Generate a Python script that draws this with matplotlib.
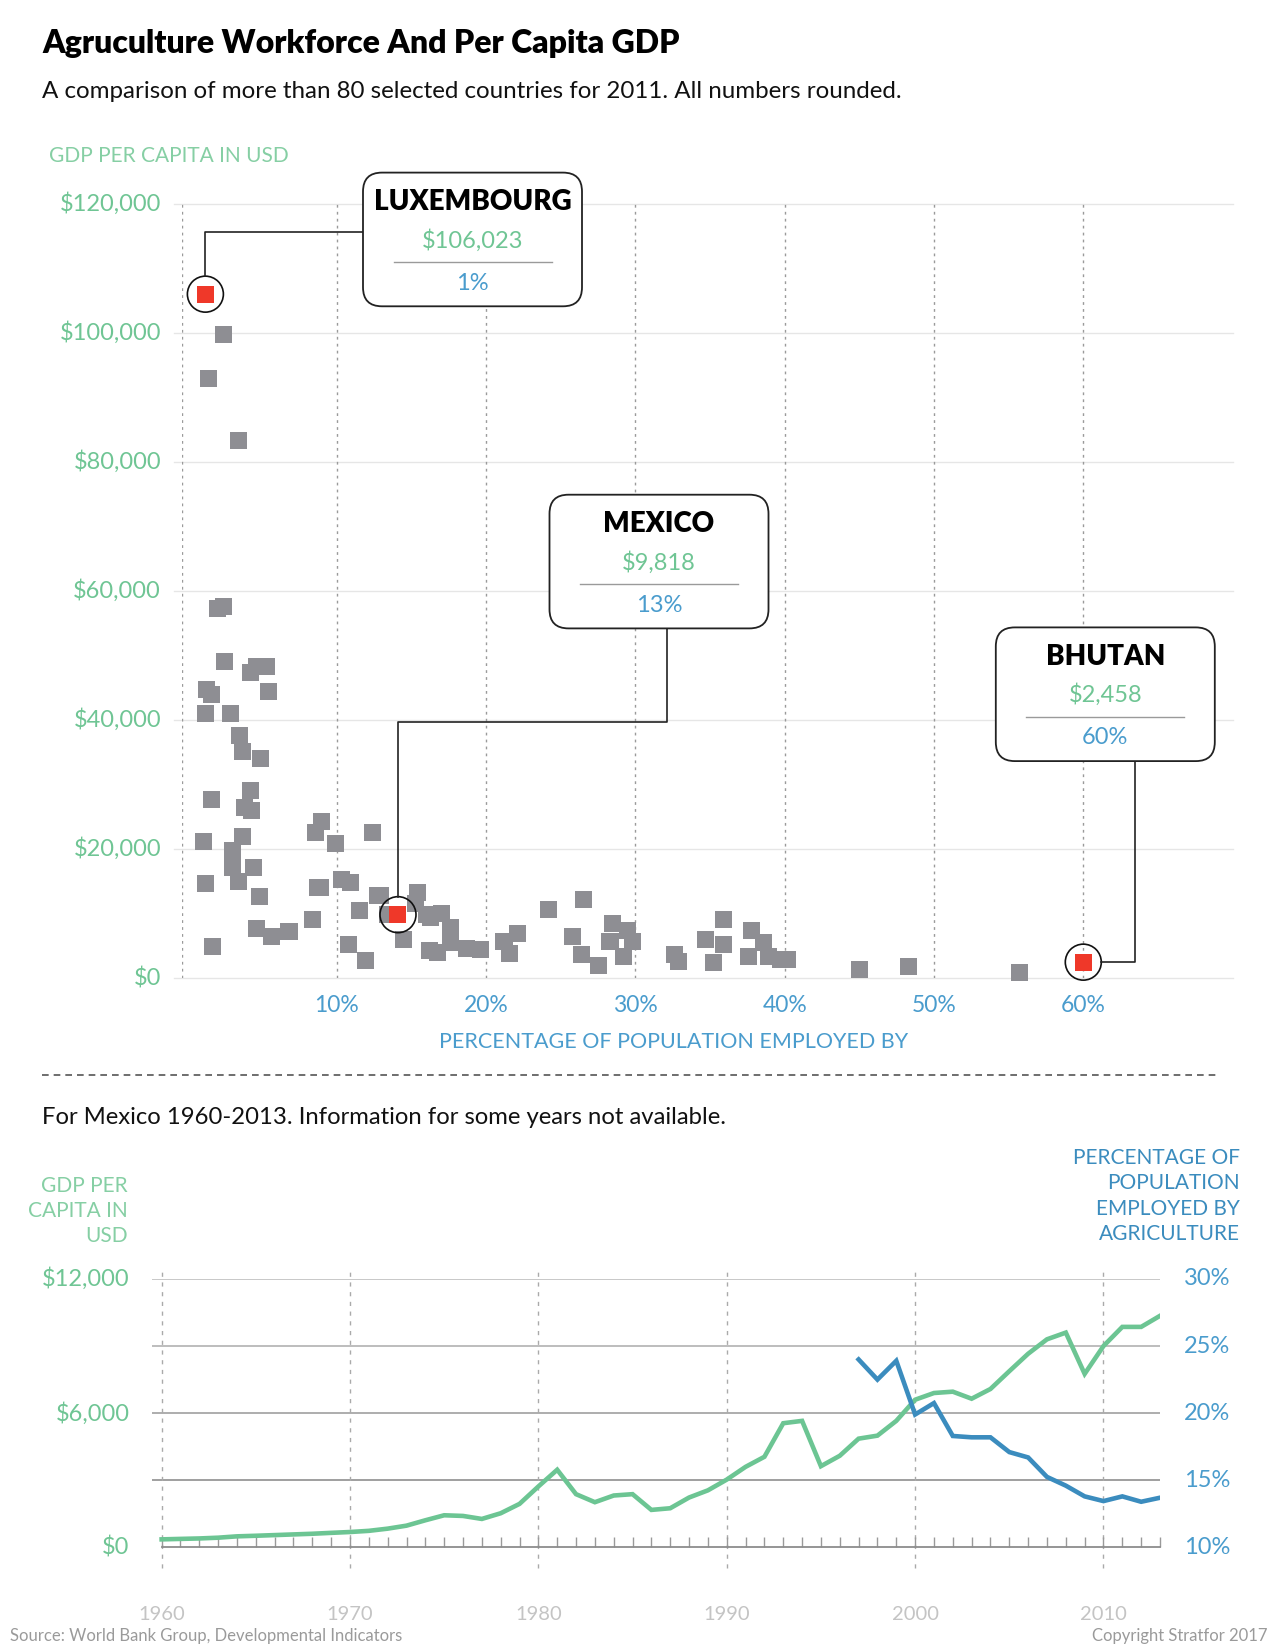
import matplotlib.pyplot as plt
import matplotlib.patches as mpatches

plt.rcParams['font.family'] = ['Lato', 'DejaVu Sans']

W, H = 1280, 1650

GREEN = '#6cc593'
GREEN_TXT = '#6fc594'
GREEN_HEAD = '#86cfa4'
BLUE = '#3b8cbe'
BLUE_TXT = '#4a9ccd'
RED = '#ef3829'
GRAY_PT = '#8e8e93'

# --- scatter: share of workforce in agriculture (%) vs GDP per capita (USD), 2011
agri_pct = [2.4, 1.4, 3.4, 2.0, 2.4, 2.5, 1.3, 1.6, 1.2, 2.9, 4.2, 4.6, 5.3, 5.4,
            3.5, 3.7, 4.9, 1.6, 4.2, 3.8, 4.3, 3.7, 1.1, 3.0, 4.4, 3.0, 3.4, 1.2,
            4.8, 4.6, 5.6, 1.7, 6.8, 8.4, 8.6, 9.0, 8.7, 8.9, 9.9, 10.3, 10.9, 10.8,
            11.5, 11.9, 12.4, 12.7, 12.9, 13.4, 14.5, 15.4, 15.3, 16.0, 16.3, 17.0,
            16.2, 16.75, 17.6, 17.6, 18.7, 19.6, 21.2, 21.6, 22.1, 24.2, 25.8, 26.4,
            26.5, 27.5, 28.3, 28.5, 29.2, 29.5, 29.8, 32.6, 32.9, 34.7, 35.2, 35.9,
            35.9, 37.8, 37.6, 38.6, 38.9, 39.7, 40.2, 45.0, 48.3, 55.7]
gdp_usd = [99700, 92900, 83400, 57300, 57600, 49100, 44700, 43900, 41000, 41000,
           47400, 48300, 48300, 44400, 37600, 35100, 34100, 27600, 29100, 26500,
           26000, 22000, 21200, 19800, 17100, 17100, 14900, 14700, 12700, 7700,
           6500, 4900, 7200, 9000, 22600, 24300, 14100, 14000, 20800, 15300, 14800,
           5250, 10400, 2770, 22600, 12850, 12850, 9860, 6000, 13300, 11600, 9800,
           9400, 10000, 4200, 3900, 7800, 5450, 4570, 4400, 5600, 3800, 6900, 10600,
           6400, 3650, 12100, 2000, 5600, 8450, 3300, 7300, 5700, 3700, 2500, 6000,
           2350, 9080, 5200, 7400, 3300, 5450, 3400, 2870, 2870, 1300, 1800, 800]

hl_names = ['LUXEMBOURG', 'MEXICO', 'BHUTAN']
hl_pct = [1.2, 14.1, 60.0]
hl_gdp = [106023, 9818, 2458]
hl_gdp_label = ['$106,023', '$9,818', '$2,458']
hl_pct_label = ['1%', '13%', '60%']

scatter_yticks = [0, 20000, 40000, 60000, 80000, 100000, 120000]
scatter_ylabels = ['$0', '$20,000', '$40,000', '$60,000', '$80,000', '$100,000', '$120,000']
scatter_xticks = [10, 20, 30, 40, 50, 60]
scatter_xlabels = ['10%', '20%', '30%', '40%', '50%', '60%']

# --- Mexico time series
years = list(range(1960, 2014))
mex_gdp = [359, 380, 400, 434, 494, 520, 550, 580, 610, 650, 688, 740, 838, 972,
           1212, 1436, 1406, 1272, 1526, 1945, 2723, 3470, 2379, 2020, 2319, 2379,
           1676, 1750, 2229, 2550, 3030, 3600, 4050, 5550, 5655, 3630, 4095, 4860,
           4995, 5655, 6600, 6900, 6960, 6645, 7080, 7875, 8655, 9300, 9600, 7755,
           9000, 9855, 9855, 10350]
agri_years = list(range(1997, 2014))
mex_agri = [24.0, 22.5, 23.9, 19.9, 20.75, 18.3, 18.2, 18.2, 17.1, 16.7, 15.25,
            14.6, 13.8, 13.45, 13.8, 13.4, 13.7]

line_left_ticks = [0, 6000, 12000]
line_left_labels = ['$0', '$6,000', '$12,000']
line_right_ticks = [10, 15, 20, 25, 30]
line_right_labels = ['10%', '15%', '20%', '25%', '30%']
decades = [1960, 1970, 1980, 1990, 2000, 2010]


def fx(x):
    return x / W


def fy(y):
    return 1 - y / H


fig = plt.figure(figsize=(12.8, 16.5), dpi=100)
fig.patch.set_facecolor('white')

# overlay in pixel coordinates (y down) for texts, boxes and connectors
ov = fig.add_axes([0, 0, 1, 1], zorder=5)
ov.set_xlim(0, W)
ov.set_ylim(H, 0)
ov.axis('off')
ov.patch.set_alpha(0)

ov.text(42, 44, 'Agruculture Workforce And Per Capita GDP', fontsize=23,
        fontweight='heavy', color='black', va='center', ha='left')
ov.text(42, 92, 'A comparison of more than 80 selected countries for 2011. All numbers rounded.',
        fontsize=17.4, color='#111111', va='center', ha='left')

# ---------------- scatter ----------------
ax = fig.add_axes([fx(181.5), fy(978), (1232.6 - 181.5) / W, (978 - 204) / H])
ax.set_xlim(-0.4, 70)
ax.set_ylim(0, 120000)
for s in ax.spines.values():
    s.set_visible(False)
ax.set_xticks([])
ax.set_yticks([])

for v in scatter_yticks:
    ax.plot([-0.9, 70], [v, v], color='#e6e6e6', lw=1, clip_on=False, zorder=1)
for xv in [-0.4] + scatter_xticks:
    ax.plot([xv, xv], [0, 120000], color='#9a9a9a', lw=1, ls=(0, (2, 3)), zorder=1)

ax.scatter(agri_pct, gdp_usd, marker='s', s=150, color=GRAY_PT, edgecolor='none',
           zorder=3, clip_on=False)
ax.scatter(hl_pct, hl_gdp, marker='s', s=150, color=RED, edgecolor='none',
           zorder=4, clip_on=False)

xform = ax.get_yaxis_transform()
for v, lab in zip(scatter_yticks, scatter_ylabels):
    ax.text(-(181.5 - 161) / (1232.6 - 181.5), v, lab, transform=xform, ha='right',
            va='center', fontsize=17, color=GREEN_TXT)
xform = ax.get_xaxis_transform()
for v, lab in zip(scatter_xticks, scatter_xlabels):
    ax.text(v, -(1005 - 978) / (978 - 204), lab, transform=xform, ha='center',
            va='center', fontsize=16.5, color=BLUE_TXT)

ov.text(49, 156, 'GDP PER CAPITA IN USD', fontsize=15, color=GREEN_HEAD,
        ha='left', va='center')
ov.text(674, 1042, 'PERCENTAGE OF POPULATION EMPLOYED BY', fontsize=15.5,
        color=BLUE_TXT, ha='center', va='center')


def to_px(x, y):
    px, py = ax.transData.transform((x, y))
    return px, H - py


R = 18
boxes = [(363, 172.6), (549.5, 494.7), (995.8, 627.4)]
BW, BH = 219, 133.7
for (bx, by), name, gl, pl in zip(boxes, hl_names, hl_gdp_label, hl_pct_label):
    ov.add_patch(mpatches.FancyBboxPatch((bx, by), BW, BH,
                                         boxstyle='round,pad=0,rounding_size=19',
                                         fc='white', ec='#222222', lw=1.3, zorder=3))
    cx = bx + BW / 2
    ov.text(cx, by + 29.5, name, fontsize=20, fontweight='heavy', color='black',
            ha='center', va='center', zorder=4)
    ov.text(cx, by + 67.5, gl, fontsize=17, color=GREEN_TXT,
            ha='center', va='center', zorder=4)
    ov.plot([cx - 79, cx + 79], [by + 89.5, by + 89.5], color='#9a9a9a', lw=1, zorder=4)
    ov.text(cx, by + 110.5, pl, fontsize=17, color=BLUE_TXT,
            ha='center', va='center', zorder=4)

pts = [to_px(x, y) for x, y in zip(hl_pct, hl_gdp)]
for px, py in pts:
    ov.add_patch(mpatches.Circle((px, py), R, fill=False, ec='#111111', lw=1.2, zorder=2))

# connectors
lx, ly = pts[0]
ov.plot([lx, lx, 363], [ly - R, 231.6, 231.6], color='#222222', lw=1.2, zorder=2)
mx, my = pts[1]
ov.plot([667.4, 667.4, mx, mx], [628.4, 722, 722, my - R], color='#222222', lw=1.2, zorder=2)
bxp, byp = pts[2]
ov.plot([1134.7, 1134.7, bxp + R], [760, byp, byp], color='#222222', lw=1.2, zorder=2)

# separator
ov.plot([42, 1218], [1075, 1075], color='#555555', lw=1.2, ls=(0, (4, 3)))
ov.text(42, 1117, 'For Mexico 1960-2013. Information for some years not available.',
        fontsize=17.2, color='#111111', ha='left', va='center')

# ---------------- line chart ----------------
top, bot = 1278.9, 1547.4
ax2 = fig.add_axes([fx(152.2), fy(bot), (1160 - 152.2) / W, (bot - top) / H])
ax2.set_xlim(1959.5, 2013)
ax2.set_ylim(0, 12000)
ax2r = ax2.twinx()
ax2r.set_ylim(10, 30)
for a in (ax2, ax2r):
    for s in a.spines.values():
        s.set_visible(False)
    a.set_yticks([])
# one small upward tick per year on the baseline
ax2.set_xticks(years)
ax2.tick_params(axis='x', direction='in', length=7, color='#9a9a9a', width=1,
                labelbottom=False)

grid_cols = ['#9f9f9f', '#adadad', '#bdbdbd', '#c8c8c8']
for v, c in zip([3000, 6000, 9000, 12000], grid_cols):
    ax2.plot([1959.5, 2013], [v, v], color=c, lw=1.4, zorder=1)
ax2.plot([1960, 2013], [0, 0], color='#8c8c8c', lw=1.3, zorder=2, clip_on=False)
px_per_usd = (bot - top) / 12000
ax2.vlines(decades, -(1568 - bot) / px_per_usd, 12000 + (top - 1268) / px_per_usd,
           color='#aaaaaa', lw=1, linestyles=(0, (3, 4)), clip_on=False, zorder=1)

ax2.plot(years, mex_gdp, color=GREEN, lw=3.3, zorder=4, solid_joinstyle='miter')
ax2r.plot(agri_years, mex_agri, color=BLUE, lw=3.3, zorder=4, solid_joinstyle='miter')

xform = ax2.get_xaxis_transform()
for d in decades:
    ax2.text(d, -(1614 - bot) / (bot - top), str(d), transform=xform, ha='center',
             va='center', fontsize=14.5, color='#c4c4c4')
for v, lab in zip(line_left_ticks, line_left_labels):
    ov.text(129.5, bot - v * px_per_usd, lab, ha='right', va='center', fontsize=17,
            color=GREEN_TXT)
for v, lab in zip(line_right_ticks, line_right_labels):
    ov.text(1184, bot - (v - 10) * (bot - top) / 20, lab, ha='left', va='center',
            fontsize=17, color=BLUE_TXT)

ov.text(127.4, 1211, 'GDP PER\nCAPITA IN\nUSD', ha='right', va='center', fontsize=15,
        color=GREEN_HEAD, linespacing=1.32, multialignment='right')
ov.text(1240, 1196, 'PERCENTAGE OF\nPOPULATION\nEMPLOYED BY\nAGRICULTURE', ha='right',
        va='center', fontsize=15, color=BLUE, linespacing=1.32, multialignment='right')

ov.text(10.5, 1636, 'Source: World Bank Group, Developmental Indicators', fontsize=12,
        color='#9a9a9a', ha='left', va='center')
ov.text(1268, 1636, 'Copyright Stratfor 2017', fontsize=12,
        color='#9a9a9a', ha='right', va='center')

fig.savefig('out.png', dpi=100)
